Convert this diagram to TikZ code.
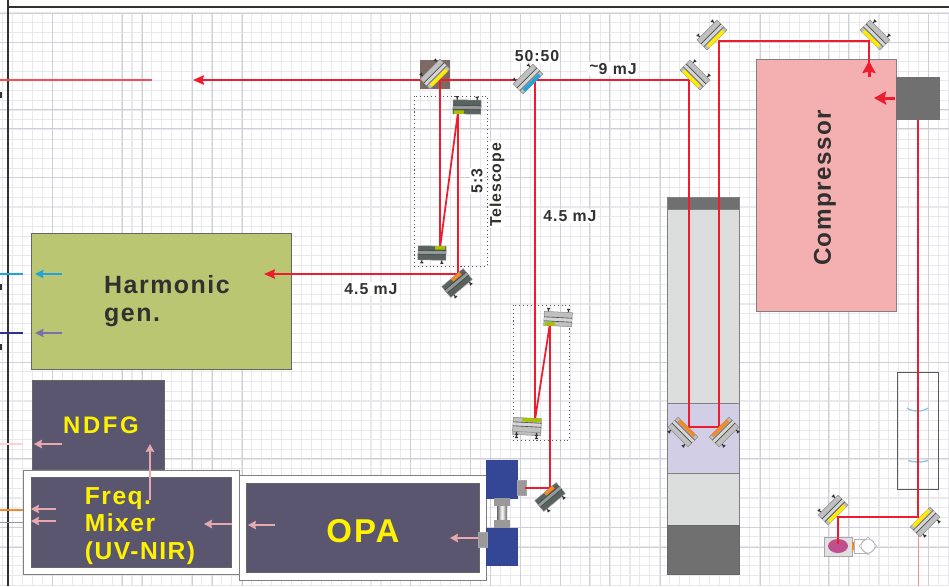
\documentclass[tikz,border=0pt]{standalone}
\usepackage{fontspec}
\usepackage{xcolor}
\usetikzlibrary{arrows.meta}
\setmainfont{Liberation Sans}
\newfontfamily\tightfont[LetterSpace=6,BoldFont={Liberation Sans Bold}]{Liberation Sans}
\newfontfamily\widefont[LetterSpace=11,BoldFont={Liberation Sans Bold}]{Liberation Sans}
\definecolor{beamred}{HTML}{ED1C2E}
\definecolor{slatebox}{HTML}{5B566F}
\definecolor{olivebox}{HTML}{BBC672}
\definecolor{pinkbox}{HTML}{F4B0B0}
\definecolor{pinkarrow}{HTML}{E8A9AE}
\definecolor{gridlight}{HTML}{E9E9ED}
\definecolor{gridheavy}{HTML}{CFCFD8}
\definecolor{stackgray}{HTML}{DCDDDD}
\definecolor{stackdark}{HTML}{707070}
\definecolor{lavender}{HTML}{D1CEE6}
\definecolor{pumpblue}{HTML}{334796}
\definecolor{mirrorgray}{HTML}{C0C0C0}
\definecolor{mirrordark}{HTML}{58625F}
\definecolor{stripyellow}{HTML}{FFEC00}
\definecolor{stripblue}{HTML}{1FA4DC}
\definecolor{stripgreen}{HTML}{A4C400}
\definecolor{striporange}{HTML}{F08A2C}
\definecolor{textdark}{HTML}{333030}
\definecolor{labelyellow}{HTML}{FFF200}
\definecolor{plateback}{HTML}{7D6B63}
\definecolor{navyline}{HTML}{2E3192}
\definecolor{violetarrow}{HTML}{7B6FB0}
\definecolor{lensblue}{HTML}{8CC6E0}
\tikzset{
  beam/.style={beamred,line width=1pt},
  beamin/.style={beamred,line width=1pt,-{Stealth[length=2.2mm,width=1.9mm,inset=0.3mm]}},
  beamfat/.style={beamred,line width=1.7pt,-{Stealth[length=2.4mm,width=2.6mm,inset=0.3mm]}},
  pinkin/.style={pinkarrow,line width=1.4pt,-{Stealth[length=1.6mm,width=1.7mm,inset=0.2mm]}},
  slate/.style={fill=slatebox,draw=black!60,line width=0.4pt},
  frame/.style={fill=white,draw=black!50,line width=0.5pt},
  dotbox/.style={black!65,line width=0.5pt,dash pattern=on 0.6pt off 1.6pt},
  smalltxt/.style={fill=white,inner sep=0.6pt,text=textdark,font=\tightfont\bfseries\fontsize{9}{10}\selectfont},
  yellowtxt/.style={text=labelyellow,inner sep=0pt,align=left},
  darktxt/.style={text=textdark,inner sep=0pt,align=left}
}
% position, angle of the front face, body colour, strip colour, strip from, strip to
\newcommand{\mirror}[6]{%
\begin{scope}[shift={#1},rotate=#2]
\draw[black!80,line width=0.7pt] (-7,-10) -- (-10,-10) (-10,-11.5) -- (-10,-8.5);
\draw[black!80,line width=0.7pt] (-7,10) -- (-10,10) (-10,8.5) -- (-10,11.5);
\draw[black!45,fill=#3,line width=0.3pt] (-7,-14) rectangle (7,14);
\fill[white!35!#3] (-1,-14) rectangle (2,14);
\draw[black!70,line width=0.35pt] (-1.5,-14) -- (-1.5,14) (2.5,-14) -- (2.5,14);
\fill[#4] (3.5,#5) rectangle (7,#6);
\end{scope}}
\begin{document}
\begin{tikzpicture}[x=0.02cm,y=-0.02cm,>={Stealth[length=2mm]},line cap=butt]
\useasboundingbox (0,0) rectangle (949,586);
\begin{scope}
\clip (0,0) rectangle (949,586);
\fill[white] (0,0) rectangle (949,586);
% paper grid
\foreach \k in {0,...,95} \draw[gridlight,line width=0.6pt] ({2.5+9.96*\k},13) -- ({2.5+9.96*\k},586);
\foreach \k in {0,...,59} \draw[gridlight,line width=0.6pt] (0,{13+9.7*\k}) -- (949,{13+9.7*\k});
\foreach \k in {52,122,142,192,212,242,410,470,490,520,560,589,609,660,760,828,848,928} \draw[gridheavy,line width=0.5pt] (\k,13) -- (\k,586);
\foreach \k in {13,42,109,128,177,362,458,527,547} \draw[gridheavy,line width=0.5pt] (0,\k) -- (949,\k);
% table edges
\draw[textdark,line width=0.9pt] (8,7) -- (949,7);
\draw[textdark,line width=1.7pt] (8,0) -- (8,586);
\foreach \k in {95,287,347} \fill[textdark] (0,\k-3) rectangle (2,\k+3);

% coordinates of the beam path
\coordinate (inA) at (869,77);
\coordinate (cmpTop) at (869,41);
\coordinate (m2) at (719,41);
\coordinate (stackL) at (719,427);
\coordinate (stackR) at (689,427);
\coordinate (m1) at (689,80);
\coordinate (bs) at (535,80);
\coordinate (pick) at (440,80);
\coordinate (mainTip) at (193,80);
\coordinate (tOneLow) at (440,248);
\coordinate (tOneTop) at (458,112);
\coordinate (tOneOut) at (458,274);
\coordinate (harmIn) at (264,274);
\coordinate (tTwoLow) at (535,420);
\coordinate (tTwoTop) at (550,323);
\coordinate (tTwoOut) at (550,488);
\coordinate (opaPump) at (525,488);
\coordinate (cmpOut) at (918,120);
\coordinate (lowR) at (918,517);
\coordinate (lowL) at (838,517);
\coordinate (seed) at (838,544);

% boxes
\draw[fill=olivebox,draw=black!60,line width=0.5pt] (31,233) rectangle (291,369);
\draw[slate] (32,380) rectangle (164,469);
\draw[frame] (23.5,470) rectangle (239,574);
\draw[slate] (31,477) rectangle (231,567);
\draw[frame] (239,475) rectangle (486,580);
\draw[slate] (246,483) rectangle (479,572);
\draw[fill=pinkbox,draw=black!50,line width=0.5pt] (756,59) rectangle (896,311);
\fill[stackdark] (896,77) rectangle (940,120);
\draw[black!50,line width=0.4pt,fill=stackgray] (667,197) rectangle (739,574);
\draw[black!50,line width=0.4pt,fill=stackdark] (667,197) rectangle (739,209);
\draw[black!50,line width=0.4pt,fill=lavender] (667,403) rectangle (739,473);
\draw[black!60,line width=0.4pt,fill=stackdark] (667,525) rectangle (739,574);
\fill[plateback] (420,60) rectangle (450,89);

% pump head
\fill[pumpblue] (486,460) rectangle (518,499);
\fill[pumpblue] (486,528) rectangle (518,566);
\draw[black!35,fill=black!40,line width=0.2pt] (517,480) rectangle (526,495);
\draw[black!35,fill=black!40,line width=0.2pt] (478,532) rectangle (487,547);
\shade[left color=black!60,right color=black!60,middle color=white] (497,506) rectangle (507,520);
\fill[black!40] (494,498) rectangle (510,506);
\fill[black!40] (494,520) rectangle (510,528);

% telescopes and lens tube
\draw[dotbox] (414,96) rectangle (487,266);
\draw[dotbox] (513,305) rectangle (569,440);
\draw[black!65,line width=0.5pt] (897,372) rectangle (938,489);
\draw[lensblue,line width=0.8pt] (907,408) .. controls (912,412) and (923,412) .. (928,408);
\draw[lensblue,line width=0.8pt] (908,460.5) .. controls (914,462.5) and (922,462.5) .. (928,460.5);

% seed
\draw[black!35,fill=black!12,line width=0.4pt] (824,537) rectangle (852,556);
\fill[magenta!70!black!85] (838,546) ellipse (10 and 7);
\fill[striporange] (852,542) rectangle (854,550);
\draw[black!30,fill=white,line width=0.3pt] (854,539) rectangle (867,553);
\draw[black!30,fill=white,line width=0.3pt] (868,546) circle (7);
\draw[black!30,line width=0.3pt] (868,537) -- (877,546) -- (868,555) -- (859,546) -- cycle;

% beams
\draw[beamred!70!pink,line width=0.8pt] (0,80) -- (152,80);
\draw[beam] (bs) -- (tTwoLow) -- (tTwoTop) -- (tTwoOut) -- (opaPump);
\draw[beam] (pick) -- (tOneLow) -- (tOneTop) -- (tOneOut);
\draw[beamin] (tOneOut) -- (harmIn);
\draw[beamin] (m1) -- (mainTip);
\draw[beam] (m1) -- (stackR) -- (stackL) -- (m2) -- (cmpTop) -- (inA);
\draw[beam] (cmpOut) -- (lowR) -- (lowL) -- (seed);
\draw[beamred!50,line width=0.3pt] (918,525) -- (918,586);
\draw[beamfat] (inA) -- (869,61);
\draw[beamfat] (895,98) -- (874,98);

% optics
\mirror{(435,74)}{-45}{mirrorgray}{stripyellow}{-11}{11}
\mirror{(528,79)}{-45}{mirrorgray}{stripblue}{-11}{11}
\mirror{(695,75)}{-135}{mirrorgray}{stripyellow}{-11}{11}
\mirror{(712,35)}{-45}{mirrorgray}{stripyellow}{-11}{11}
\mirror{(875,35)}{-135}{mirrorgray}{stripyellow}{-11}{11}
\mirror{(467,107)}{-91}{mirrordark}{stripgreen}{3}{13}
\mirror{(432,253)}{89}{mirrordark}{stripgreen}{3}{13}
\mirror{(457,283)}{130}{mirrordark}{striporange}{-2}{9}
\mirror{(558,319)}{-93}{mirrorgray}{stripgreen}{3}{13}
\mirror{(527,428)}{87}{mirrorgray}{stripgreen}{-2}{3}
\mirror{(527,425)}{87}{mirrorgray}{stripgreen}{-5}{14}
\mirror{(550,497)}{130}{mirrordark}{striporange}{-2}{9}
\mirror{(683,432)}{45}{mirrorgray}{striporange}{-11}{11}
\mirror{(724,432)}{135}{mirrorgray}{striporange}{-11}{11}
\mirror{(833,510)}{-45}{mirrorgray}{stripyellow}{-11}{11}
\mirror{(925,522)}{135}{mirrorgray}{stripyellow}{-11}{11}

% outputs on the left
\draw[pink!70,line width=0.8pt] (0,444) -- (23,444);
\draw[striporange,line width=0.8pt] (0,510) -- (23,510);
\draw[black!40,line width=0.5pt] (0,522) -- (23,522);
\draw[stripblue,line width=0.8pt] (0,274) -- (23,274);
\draw[navyline,line width=0.8pt] (0,333) -- (23,333);
\draw[stripblue,line width=1.3pt,-{Stealth[length=1.7mm,width=1.6mm,inset=0.2mm]}] (62,274) -- (35,274);
\draw[violetarrow,line width=1.3pt,-{Stealth[length=1.7mm,width=1.6mm,inset=0.2mm]}] (62,333) -- (35,333);
\draw[pinkin] (62,444) -- (34,444);
\draw[pinkin] (150,500) -- (150,444);
\draw[pinkin] (56,509) -- (31,509);
\draw[pinkin] (56,521) -- (31,521);
\draw[pinkin] (232,524) -- (204,524);
\draw[pinkin] (275,525) -- (248,525);
\draw[pinkin] (478,538) -- (450,538);

% labels
\node[darktxt,font=\tightfont\bfseries\fontsize{14.2}{15.9}\selectfont] (harm) at (167,301.5) {Harmonic\\gen.};
\node[yellowtxt,font=\widefont\bfseries\fontsize{13.6}{15}\selectfont] (ndfg) at (101,425) {NDFG};
\node[yellowtxt,font=\tightfont\bfseries\fontsize{14}{15.7}\selectfont] (mixer) at (140,526) {Freq.\\Mixer\\(UV-NIR)};
\node[yellowtxt,font=\tightfont\bfseries\fontsize{18.8}{20}\selectfont] (opa) at (363,531) {OPA};
\node[darktxt,rotate=90,font=\tightfont\bfseries\fontsize{13.8}{16}\selectfont] (comp) at (825,188) {Compressor};
\node[smalltxt] (split) at (537,56) {50:50};
\node[smalltxt] (energy) at (613,69) {\raisebox{0.3ex}{\textasciitilde}9 mJ};
\node[smalltxt] (armA) at (570,216) {4.5 mJ};
\node[smalltxt] (armB) at (371,289) {4.5 mJ};
\node[smalltxt,rotate=90] (ratio) at (477,181) {5:3};
\node[smalltxt,rotate=90] (tele) at (497,185) {Telescope};
\end{scope}
\end{tikzpicture}
\end{document}
